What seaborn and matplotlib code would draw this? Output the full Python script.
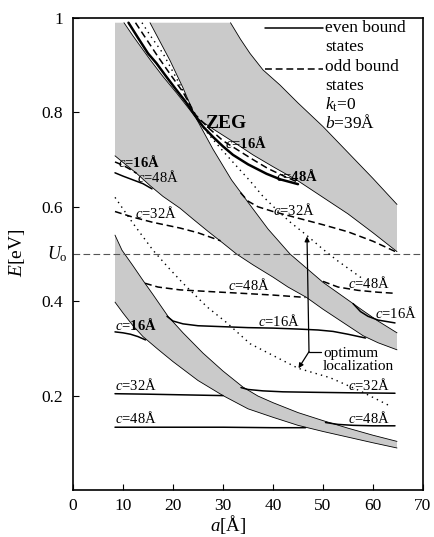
import numpy as np
import pandas as pd
import matplotlib
matplotlib.use("Agg")
import matplotlib.pyplot as plt
import seaborn as sns

# ---------------- allowed minibands (a in Å, E in eV) ----------------
band1_upper_a = [8.4, 9.8, 12, 14, 16, 19, 22, 26, 30, 34, 37, 40, 45, 50, 55, 60, 64.8]
band1_upper_E = [0.54, 0.508, 0.475, 0.444, 0.414, 0.368, 0.333, 0.29, 0.252, 0.218, 0.199,
                 0.185, 0.164, 0.147, 0.131, 0.116, 0.103]
band1_lower_a = [8.4, 10, 12, 14, 17, 20, 25, 30, 35, 40, 45, 50, 55, 60, 64.8]
band1_lower_E = [0.398, 0.375, 0.348, 0.325, 0.298, 0.272, 0.232, 0.2, 0.172, 0.154, 0.137,
                 0.124, 0.112, 0.1, 0.089]

band2_lower_a = [8.4, 10, 12.7, 15.4, 18, 21.4, 24, 27, 30, 32.7, 36, 40, 43, 46.7, 50, 54, 58, 61, 64.8]
band2_lower_E = [0.708, 0.694, 0.671, 0.645, 0.622, 0.597, 0.574, 0.548, 0.523, 0.50, 0.477,
                 0.451, 0.43, 0.408, 0.383, 0.355, 0.327, 0.312, 0.297]
band2_upper_a = [10.2, 12, 15.4, 18, 20.8, 24.5, 28, 31.7, 35.4, 39, 43.4, 46.7, 50, 54, 58, 61, 64.8]
band2_upper_E = [0.99, 0.962, 0.912, 0.876, 0.84, 0.79, 0.722, 0.657, 0.604, 0.553, 0.50,
                 0.47, 0.44, 0.41, 0.38, 0.358, 0.333]

band3_lower_a = [15.4, 17.4, 19.4, 22, 24.5, 28, 32, 36, 40, 45, 50, 55, 60, 64.8]
band3_lower_E = [0.99, 0.95, 0.91, 0.852, 0.79, 0.765, 0.738, 0.71, 0.685, 0.655, 0.62,
                 0.585, 0.545, 0.505]
band3_upper_a = [31.5, 33.5, 35.4, 38, 41.4, 45, 50, 55, 60, 64.8]
band3_upper_E = [0.99, 0.955, 0.925, 0.89, 0.858, 0.82, 0.77, 0.715, 0.66, 0.605]

E_top = 0.99

# ---------------- even bound states (solid) ----------------
even_zeg_a = [11.1, 13, 15, 16.7, 18.5, 20.5, 22.5, 24.5, 26, 28, 30, 32, 35, 38.7, 41.5, 45]
even_zeg_E = [0.99, 0.958, 0.925, 0.904, 0.878, 0.85, 0.823, 0.792, 0.77, 0.748, 0.728,
              0.71, 0.69, 0.67, 0.658, 0.648]
even_48_top_a = [8.4, 10, 12, 14, 15.8]
even_48_top_E = [0.672, 0.665, 0.657, 0.649, 0.638]
even_16_mid_a = [18.8, 20, 22, 25, 30, 35, 40, 45, 49, 52, 55, 58.5]
even_16_mid_E = [0.368, 0.358, 0.352, 0.348, 0.346, 0.344, 0.343, 0.341, 0.339, 0.336, 0.33, 0.322]
even_16_low_a = [8.4, 10, 11.5, 13, 14.5]
even_16_low_E = [0.335, 0.333, 0.33, 0.325, 0.318]
even_16_right_a = [56, 57.5, 59, 61, 64.4]
even_16_right_E = [0.395, 0.378, 0.368, 0.36, 0.354]
even_32_left_a = [8.4, 15, 20, 25, 30]
even_32_left_E = [0.204, 0.203, 0.202, 0.201, 0.2]
even_32_right_a = [33.6, 35, 38, 42, 48, 55, 64.4]
even_32_right_E = [0.217, 0.213, 0.21, 0.208, 0.207, 0.206, 0.205]
even_48_left_a = [8.4, 20, 30, 40, 46.5]
even_48_left_E = [0.133, 0.133, 0.133, 0.132, 0.132]
even_48_right_a = [50.5, 53, 56, 60, 64.4]
even_48_right_E = [0.143, 0.139, 0.137, 0.136, 0.136]

# ---------------- odd bound states (dashed) ----------------
odd_zeg_a = [12.5, 14.5, 17, 19.5, 22, 24.5, 27, 30, 33, 36, 39, 42, 45]
odd_zeg_E = [0.99, 0.958, 0.918, 0.88, 0.843, 0.795, 0.768, 0.74, 0.72, 0.70, 0.681, 0.666, 0.652]
odd_16_top_a = [8.4, 10, 11.5, 12.7]
odd_16_top_E = [0.695, 0.688, 0.679, 0.671]
odd_32_left_a = [8.4, 12, 16, 21.4, 25, 29.5]
odd_32_left_E = [0.59, 0.578, 0.567, 0.555, 0.545, 0.528]
odd_32_right_a = [33.5, 35, 37, 40, 45, 50, 55, 60, 64.5]
odd_32_right_E = [0.63, 0.612, 0.60, 0.59, 0.576, 0.562, 0.547, 0.527, 0.505]
odd_48_mid_a = [14.4, 17, 21.4, 28, 35, 40, 46.5]
odd_48_mid_E = [0.438, 0.43, 0.424, 0.42, 0.416, 0.413, 0.408]
odd_48_right_a = [50, 53, 57, 61, 64]
odd_48_right_E = [0.442, 0.43, 0.423, 0.419, 0.417]

# ---------------- optimum localization (dotted) ----------------
opt_upper_a = [13.8, 15.5, 18, 20.5, 22.5, 24.5, 27, 30, 33.4, 35.4, 38, 40.8, 43.5, 46.7,
               50, 53, 55.5, 58]
opt_upper_E = [0.99, 0.962, 0.925, 0.876, 0.836, 0.79, 0.755, 0.718, 0.678, 0.655, 0.622,
               0.593, 0.567, 0.54, 0.51, 0.485, 0.466, 0.447]
opt_lower_a = [8.4, 12, 16, 19, 22, 26.8, 30.8, 35.4, 40, 45, 51.4, 57.4, 63.4]
opt_lower_E = [0.62, 0.565, 0.508, 0.472, 0.438, 0.388, 0.354, 0.31, 0.285, 0.258, 0.238,
               0.21, 0.178]

U0 = 0.5
x_ticks = [0, 10, 20, 30, 40, 50, 60, 70]
y_ticks = [0.2, 0.4, 0.6, 0.8, 1.0]
y_tick_labels = ["0.2", "0.4", "0.6", "0.8", "1"]

# ---------------- style ----------------
sns.set_theme(style="ticks")
plt.rcParams["font.family"] = ["Liberation Serif", "DejaVu Serif"]
plt.rcParams["mathtext.fontset"] = "custom"
plt.rcParams["mathtext.rm"] = "Liberation Serif"
plt.rcParams["mathtext.it"] = "Liberation Serif:italic"
plt.rcParams["mathtext.bf"] = "Liberation Serif:bold"
plt.rcParams["text.color"] = "black"
plt.rcParams["axes.labelcolor"] = "black"

fig = plt.figure(figsize=(4.35, 5.37), dpi=100)
ax = fig.add_axes([73 / 435, 47 / 537, 350 / 435, 472 / 537])

band_color = "#cacaca"

# bands
b1_x = band1_upper_a + band1_lower_a[::-1]
b1_y = band1_upper_E + band1_lower_E[::-1]
ax.fill(b1_x, b1_y, color=band_color, lw=0, zorder=1)

b2_x = [8.4] + band2_upper_a + band2_lower_a[::-1]
b2_y = [E_top] + band2_upper_E + band2_lower_E[::-1]
ax.fill(b2_x, b2_y, color=band_color, lw=0, zorder=1)

b3_x = band3_upper_a + band3_lower_a[::-1]
b3_y = band3_upper_E + band3_lower_E[::-1]
ax.fill(b3_x, b3_y, color=band_color, lw=0, zorder=1)


def draw(a, E, lw, ls="-", z=3):
    df = pd.DataFrame({"a": a, "E": E})
    sns.lineplot(data=df, x="a", y="E", ax=ax, color="black", linewidth=lw,
                 linestyle=ls, sort=False, estimator=None, zorder=z)


# band edges
for a, E in [(band1_upper_a, band1_upper_E), (band1_lower_a, band1_lower_E),
             (band2_lower_a, band2_lower_E), (band2_upper_a, band2_upper_E),
             (band3_lower_a, band3_lower_E), (band3_upper_a, band3_upper_E)]:
    draw(a, E, 0.6, z=2)

# U0 level
ax.axhline(U0, color="#555555", lw=0.8, ls=(0, (6, 3)), zorder=2)

# even states
draw(even_zeg_a, even_zeg_E, 1.8)
for a, E in [(even_48_top_a, even_48_top_E), (even_16_mid_a, even_16_mid_E),
             (even_16_low_a, even_16_low_E), (even_16_right_a, even_16_right_E),
             (even_32_left_a, even_32_left_E), (even_32_right_a, even_32_right_E),
             (even_48_left_a, even_48_left_E), (even_48_right_a, even_48_right_E)]:
    draw(a, E, 1.1)

# odd states
for a, E in [(odd_zeg_a, odd_zeg_E), (odd_16_top_a, odd_16_top_E),
             (odd_32_left_a, odd_32_left_E), (odd_32_right_a, odd_32_right_E),
             (odd_48_mid_a, odd_48_mid_E), (odd_48_right_a, odd_48_right_E)]:
    draw(a, E, 1.1, ls=(0, (4.5, 2.5)))

# optimum localization
draw(opt_upper_a, opt_upper_E, 1.0, ls=(0, (1, 3)))
draw(opt_lower_a, opt_lower_E, 1.0, ls=(0, (1, 3)))

# pointer to the optimum localization curves
ax.annotate("", xy=(46.8, 0.537), xytext=(47.2, 0.293),
            arrowprops=dict(arrowstyle="-|>", color="black", lw=0.9,
                            mutation_scale=7, shrinkA=0, shrinkB=0), zorder=4)
ax.annotate("", xy=(45.1, 0.258), xytext=(47.2, 0.293),
            arrowprops=dict(arrowstyle="-|>", color="black", lw=0.9,
                            mutation_scale=7, shrinkA=0, shrinkB=0), zorder=4)
ax.plot([47.2, 49.6], [0.293, 0.293], color="black", lw=0.9, zorder=4)
ax.text(50.0, 0.282, "optimum", fontsize=11, va="baseline", ha="left")
ax.text(50.0, 0.255, "localization", fontsize=11, va="baseline", ha="left")

# curve labels
lab = 10.5
labels = [
    (9.0, 0.684, "$c$=16Å", "bold"),
    (12.8, 0.653, "$c$=48Å", "normal"),
    (12.4, 0.576, "$c$=32Å", "normal"),
    (30.4, 0.725, "$c$=16Å", "bold"),
    (40.7, 0.655, "$c$=48Å", "bold"),
    (40.0, 0.583, "$c$=32Å", "normal"),
    (31.0, 0.424, "$c$=48Å", "normal"),
    (55.0, 0.428, "$c$=48Å", "normal"),
    (60.4, 0.364, "$c$=16Å", "normal"),
    (37.0, 0.347, "$c$=16Å", "normal"),
    (8.4, 0.339, "$c$=16Å", "bold"),
    (8.4, 0.212, "$c$=32Å", "normal"),
    (8.4, 0.142, "$c$=48Å", "normal"),
    (55.0, 0.212, "$c$=32Å", "normal"),
    (55.0, 0.142, "$c$=48Å", "normal"),
]
for x, y, s, w in labels:
    ax.text(x, y, s, fontsize=lab, fontweight=w, va="baseline", ha="left", zorder=5)
ax.text(26.4, 0.767, "ZEG", fontsize=14, fontweight="bold", va="baseline", ha="left", zorder=5)

# key
ax.plot([38.4, 50.0], [0.978, 0.978], color="black", lw=1.1)
ax.plot([38.4, 50.0], [0.893, 0.893], color="black", lw=1.1, ls=(0, (4.5, 2.5)))
key_fs = 12.5
for y, s in [(0.979, "even bound"), (0.938, "states"), (0.896, "odd bound"),
             (0.856, "states"), (0.817, "$k_\\mathrm{t}$=0"), (0.777, "$b$=39Å")]:
    ax.text(50.4, y, s, fontsize=key_fs, va="center", ha="left")

# axes
ax.set_xlim(0, 70)
ax.set_ylim(0, 1)
ax.set_xticks(x_ticks)
ax.set_yticks(y_ticks)
ax.set_yticklabels(y_tick_labels)
ax.tick_params(direction="in", length=4, width=0.8, labelsize=12.5, pad=7,
               colors="black")
ax.tick_params(axis="x", pad=6)
ax.text(-1.0, U0, "$U_\\mathrm{o}$", fontsize=13, ha="right", va="center")
for sp in ax.spines.values():
    sp.set_linewidth(1.2)
    sp.set_color("black")
ax.set_xlabel("")
ax.set_ylabel("")
fig.text(228 / 435, 1 - 525 / 537, "$a$[Å]", fontsize=13.5, ha="center", va="center")
fig.text(17 / 435, 1 - 253 / 537, "$E$[eV]", fontsize=14, ha="center", va="center",
         rotation=90)

fig.savefig("out.png", dpi=100)
